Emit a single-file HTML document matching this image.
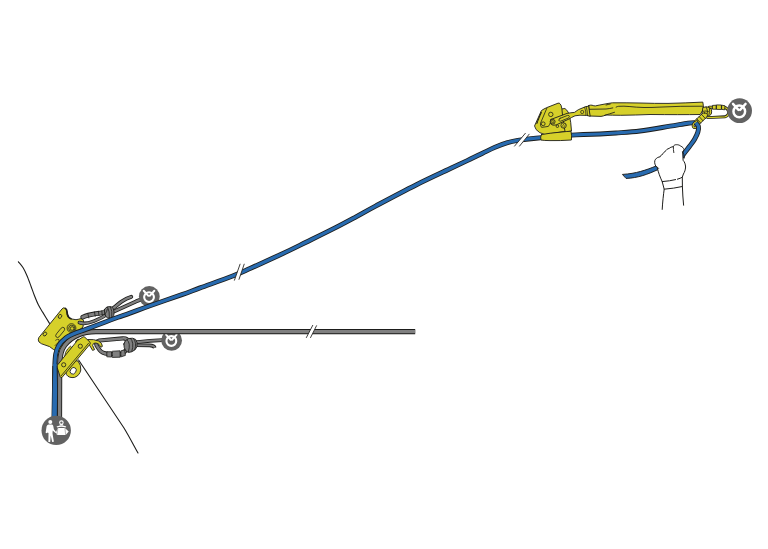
<!DOCTYPE html>
<html lang="en">
<head>
<meta charset="utf-8">
<title>Rope rescue diagram</title>
<style>html,body{margin:0;padding:0;background:#fff;}svg{display:block;}</style>
</head>
<body>
<svg width="768" height="549" viewBox="0 0 768 549" role="img" aria-label="Rope rescue diagram">
<path d="M18.40 261.80C19.18 262.80 21.67 265.48 23.10 267.80C24.53 270.12 25.68 272.63 27.00 275.70C28.32 278.77 29.78 282.93 31.00 286.20C32.22 289.47 33.10 292.25 34.30 295.30C35.50 298.35 36.78 301.65 38.20 304.50C39.62 307.35 40.92 309.25 42.80 312.40C44.68 315.55 48.38 321.57 49.50 323.40" fill="none" stroke="#1d1d1b" stroke-width="1.1" stroke-linejoin="round" stroke-linecap="round" />
<path d="M78.6 360C96 386 112 410 124 428C130 438 134 446 138 453" fill="none" stroke="#1d1d1b" stroke-width="1.1" stroke-linejoin="round" stroke-linecap="round" />
<path d="M62.3 308.6Q63.6 307.2 65 308.2Q66.6 309 66.7 311L67.2 314.5Q68 318 71 318.9L76 319.7Q79 319.2 81 318.6Q83.4 318.8 83.6 321L83 327L70 338L60 352L53.5 349.5Q50 346 45 345Q41 344 39 342Q37.6 340 38.6 338Z" fill="#d6d02a" stroke="#1d1d1b" stroke-width="0.9" stroke-linejoin="round" stroke-linecap="round" />
<ellipse cx="60" cy="316.4" rx="1.6" ry="2.1" transform="rotate(35 60 316.4)" fill="#d6d02a" stroke="#1d1d1b" stroke-width="0.8"/>
<path d="M65.4 308.4Q66.8 309.4 66.9 311L67.4 314.5Q68.2 317.8 71 318.7" fill="none" stroke="#1d1d1b" stroke-width="1.7" stroke-linejoin="round" stroke-linecap="round" />
<ellipse cx="44.9" cy="334" rx="1.6" ry="2.1" transform="rotate(35 44.9 334)" fill="#d6d02a" stroke="#1d1d1b" stroke-width="0.8"/>
<path d="M61.4 327.9Q62.8 326.6 64.2 327.8Q65.2 329.2 64.2 330.6L59 336.9Q57.6 338.2 56.2 337Q55 335.6 56.2 334.2Z" fill="none" stroke="#1d1d1b" stroke-width="0.8" stroke-linejoin="round" stroke-linecap="round" />
<path d="M55.6 340.2Q57.4 338.6 59 339.6Q59.6 341 58 342.6L55 345.6" fill="none" stroke="#1d1d1b" stroke-width="0.7" stroke-linejoin="round" stroke-linecap="round" />
<circle cx="71.5" cy="328.1" r="4.4" fill="#d6d02a" stroke="#1d1d1b" stroke-width="0.8"/>
<circle cx="71.8" cy="328.3" r="3.1" fill="#d6d02a" stroke="#1d1d1b" stroke-width="0.8"/>
<circle cx="72.1" cy="328.5" r="1.8" fill="#d6d02a" stroke="#1d1d1b" stroke-width="0.8"/>
<path d="M109 313.8L136 301.4L146 297.6" fill="none" stroke="#1d1d1b" stroke-width="3.9" stroke-linecap="butt" stroke-linejoin="round" /><path d="M109 313.8L136 301.4L146 297.6" fill="none" stroke="#808080" stroke-width="2.20" stroke-linecap="butt" stroke-linejoin="round" />
<path d="M135 342.4L150 340.8L162.5 340.1" fill="none" stroke="#1d1d1b" stroke-width="3.8" stroke-linecap="butt" stroke-linejoin="round" /><path d="M135 342.4L150 340.8L162.5 340.1" fill="none" stroke="#808080" stroke-width="2.10" stroke-linecap="butt" stroke-linejoin="round" />
<g transform="translate(149.3 296.5) scale(0.867)"><circle r="12" fill="#626262"/><circle cx="-0.3" cy="0.7" r="5.65" fill="none" stroke="#fff" stroke-width="2.4"/><path d="M-6.4 -6.6L-1.1 -0.8M5.8 -6.6L0.5 -0.8" stroke="#fff" stroke-width="2.3" stroke-linecap="round" fill="none"/></g>
<g transform="translate(171.6 340.4) scale(0.867)"><circle r="12" fill="#626262"/><circle cx="-0.3" cy="0.7" r="5.65" fill="none" stroke="#fff" stroke-width="2.4"/><path d="M-6.4 -6.6L-1.1 -0.8M5.8 -6.6L0.5 -0.8" stroke="#fff" stroke-width="2.3" stroke-linecap="round" fill="none"/></g>
<path d="M109 310.6C114 308.6 117.5 304.4 121.5 301.6C125 299.2 128 297.8 131.2 296.9" fill="none" stroke="#1d1d1b" stroke-width="4.0" stroke-linecap="round" stroke-linejoin="round" /><path d="M109 310.6C114 308.6 117.5 304.4 121.5 301.6C125 299.2 128 297.8 131.2 296.9" fill="none" stroke="#808080" stroke-width="2.30" stroke-linecap="round" stroke-linejoin="round" />
<path d="M79.4 322.5C83 324.2 88 323.4 94 321.1C99 319.2 103.5 317 107 314.4" fill="none" stroke="#1d1d1b" stroke-width="3.6" stroke-linecap="round" stroke-linejoin="round" /><path d="M79.4 322.5C83 324.2 88 323.4 94 321.1C99 319.2 103.5 317 107 314.4" fill="none" stroke="#808080" stroke-width="2.00" stroke-linecap="round" stroke-linejoin="round" />
<path d="M82.8 317.1C86 315.7 91 314.5 96 313.7C99 313.2 101.5 312.8 103.4 312.6" fill="none" stroke="#1d1d1b" stroke-width="4.8" stroke-linecap="round" stroke-linejoin="round" /><path d="M82.8 317.1C86 315.7 91 314.5 96 313.7C99 313.2 101.5 312.8 103.4 312.6" fill="none" stroke="#808080" stroke-width="3.10" stroke-linecap="round" stroke-linejoin="round" />
<path d="M87.8 313.4L88.8 318M94.4 311.8L95.2 316.2M98.4 311.2L99 315.6M101.8 310.8L102.2 315" fill="none" stroke="#1d1d1b" stroke-width="0.8" stroke-linejoin="round" stroke-linecap="round" />
<path d="M104.4 309.6Q105.6 307 108.5 306.6Q112 306.2 113.4 308.6Q114.4 312 113.8 315.4Q113 317.8 110.5 318.2Q107.4 318.6 105.8 316.5Q104.2 313 104.4 309.6Z" fill="#808080" stroke="#1d1d1b" stroke-width="0.9" stroke-linejoin="round" stroke-linecap="round" />
<path d="M107.6 307Q109.8 311 109.4 318.2M110.4 306.6Q112.6 311 111.8 317.6M105 314Q107 312 107.4 309" fill="none" stroke="#1d1d1b" stroke-width="0.8" stroke-linejoin="round" stroke-linecap="round" />
<path d="M59.6 417L59.7 380L59.7 366C59.7 356 60.6 350.5 64.8 345.2C70.4 338.2 80 331.62 96 331.62L415.2 331.62" fill="none" stroke="#1d1d1b" stroke-width="5.05" stroke-linecap="butt" stroke-linejoin="round" /><path d="M59.6 417L59.7 380L59.7 366C59.7 356 60.6 350.5 64.8 345.2C70.4 338.2 80 331.62 96 331.62L415.2 331.62" fill="none" stroke="#808080" stroke-width="3.25" stroke-linecap="butt" stroke-linejoin="round" />
<path d="M135 345.2L149.6 345.4Q154 345.6 154.8 347.8" fill="none" stroke="#1d1d1b" stroke-width="3.6" stroke-linecap="butt" stroke-linejoin="round" /><path d="M135 345.2L149.6 345.4Q154 345.6 154.8 347.8" fill="none" stroke="#808080" stroke-width="1.90" stroke-linecap="butt" stroke-linejoin="round" />
<path d="M96.6 345.6Q95.4 341.4 99.4 340.5L122.5 338.4Q127.5 338 128.6 342Q129.2 346 126 350Q124 353.6 120 354.3L108 353.8Q102 353.4 99.6 350Z" fill="none" stroke="#1d1d1b" stroke-width="4.2" stroke-linecap="round" stroke-linejoin="round" /><path d="M96.6 345.6Q95.4 341.4 99.4 340.5L122.5 338.4Q127.5 338 128.6 342Q129.2 346 126 350Q124 353.6 120 354.3L108 353.8Q102 353.4 99.6 350Z" fill="none" stroke="#808080" stroke-width="2.50" stroke-linecap="round" stroke-linejoin="round" />
<path d="M107.2 351.8L111.6 351.7L111.6 357L107.2 356.8Z" fill="#808080" stroke="#1d1d1b" stroke-width="0.8" stroke-linejoin="round" stroke-linecap="round" />
<path d="M112.6 351.2L120 350.8L120.2 357.2L112.6 357.4Z" fill="#808080" stroke="#1d1d1b" stroke-width="0.8" stroke-linejoin="round" stroke-linecap="round" />
<path d="M121.2 350.8L124.6 349.8L125.4 355.4L121.2 356.8Z" fill="#808080" stroke="#1d1d1b" stroke-width="0.8" stroke-linejoin="round" stroke-linecap="round" />
<path d="M123.8 344Q124.6 340 128.6 338.6Q132.6 337.4 135.6 339.4Q137.8 342 137 346.6Q135.6 350.6 131.6 351.8Q128 353.4 126 351Q123.6 348 123.8 344Z" fill="#808080" stroke="#1d1d1b" stroke-width="0.9" stroke-linejoin="round" stroke-linecap="round" />
<path d="M127 340Q131 342.6 128.4 351.8M130.4 338.2Q134.6 342.6 131.8 351.4M133.6 338.6Q137 343 134.8 349.6" fill="none" stroke="#1d1d1b" stroke-width="0.8" stroke-linejoin="round" stroke-linecap="round" />
<path d="M64.4 358L65.6 352.4Q67.4 348.4 70.4 346.2L71.8 347.4L66.6 358.6Z" fill="#d6d02a" stroke="#1d1d1b" stroke-width="0.8" stroke-linejoin="round" stroke-linecap="round" />
<path d="M75.6 341.6Q76.6 339.4 78.6 339L79.6 340.6L76.8 343Z" fill="#d6d02a" stroke="#1d1d1b" stroke-width="0.8" stroke-linejoin="round" stroke-linecap="round" />
<path d="M88 339.5Q94 339 98.6 341Q102.4 343 102.4 346.4L100.8 347.2Q99.6 343.6 96 343Q93 342.6 92.6 345.4L94.6 349.6L92.6 350.4L89.4 345Z" fill="#d6d02a" stroke="#1d1d1b" stroke-width="0.9" stroke-linejoin="round" stroke-linecap="round" />
<path d="M71 360L78 361Q81.2 365 80.8 370Q79.8 375.4 74.6 377.4Q69 378.4 66.4 374.6L65.4 370Z" fill="#d6d02a" stroke="#1d1d1b" stroke-width="0.9" stroke-linejoin="round" stroke-linecap="round" />
<ellipse cx="73.2" cy="370.8" rx="2.8" ry="3.5" transform="rotate(35 73.2 370.8)" fill="#fff" stroke="#1d1d1b" stroke-width="0.8"/>
<path d="M77.6 340.4L83.2 336.8Q84.2 336.6 85 337.4L90 342.2Q90.6 343.2 90 344.2L62 377.4Q60.8 378 60.2 376.8L57 367Q56.8 365.6 57.8 364.6Z" fill="#d6d02a" stroke="#1d1d1b" stroke-width="0.9" stroke-linejoin="round" stroke-linecap="round" />
<path d="M88.6 343.2L61.2 375.8" fill="none" stroke="#1d1d1b" stroke-width="0.8" stroke-linejoin="round" stroke-linecap="round" />
<circle cx="80.3" cy="346.2" r="2.1" fill="#d6d02a" stroke="#1d1d1b" stroke-width="0.85"/>
<circle cx="63.7" cy="364.8" r="2.1" fill="#d6d02a" stroke="#1d1d1b" stroke-width="0.85"/>
<path d="M54.50 417.00C54.55 414.00 54.75 407.22 54.80 399.00C54.85 390.78 54.65 375.17 54.80 367.70C54.95 360.23 55.05 357.88 55.70 354.20C56.35 350.52 57.02 348.30 58.70 345.60C60.38 342.90 63.18 340.02 65.80 338.00C68.42 335.98 70.93 334.98 74.40 333.50C77.87 332.02 81.43 331.03 86.60 329.10C91.77 327.18 100.17 323.92 105.40 321.95C110.63 319.98 113.90 318.77 118.00 317.30C122.10 315.83 124.67 315.03 130.00 313.10C135.33 311.17 141.33 308.78 150.00 305.70C158.67 302.62 173.67 297.57 182.00 294.60C190.33 291.63 191.67 290.95 200.00 287.90C208.33 284.85 223.67 279.53 232.00 276.30C240.33 273.07 244.33 271.02 250.00 268.50C255.67 265.98 259.33 264.26 266.00 261.20C272.67 258.14 283.33 253.30 290.00 250.15C296.67 247.00 298.33 246.09 306.00 242.30C313.67 238.51 327.67 231.65 336.00 227.40C344.33 223.15 349.33 220.40 356.00 216.80C362.67 213.20 366.00 211.11 376.00 205.80C386.00 200.49 403.33 191.28 416.00 184.95C428.67 178.62 443.00 172.08 452.00 167.80C461.00 163.53 464.92 161.73 470.00 159.30C475.08 156.87 478.33 155.22 482.50 153.20C486.67 151.18 490.83 148.97 495.00 147.20C499.17 145.43 503.71 143.73 507.50 142.60C511.29 141.47 513.00 141.13 517.75 140.40C522.50 139.67 526.29 139.12 536.00 138.20C545.71 137.28 565.33 135.60 576.00 134.90C586.67 134.20 593.33 134.32 600.00 134.00C606.67 133.68 609.33 133.50 616.00 133.00C622.67 132.50 631.00 132.13 640.00 131.00C649.00 129.87 662.00 127.50 670.00 126.20C678.00 124.90 683.75 123.80 688.00 123.20C692.25 122.60 694.25 122.70 695.50 122.60" fill="none" stroke="#1d1d1b" stroke-width="4.9" stroke-linecap="butt" stroke-linejoin="round" /><path d="M54.50 417.00C54.55 414.00 54.75 407.22 54.80 399.00C54.85 390.78 54.65 375.17 54.80 367.70C54.95 360.23 55.05 357.88 55.70 354.20C56.35 350.52 57.02 348.30 58.70 345.60C60.38 342.90 63.18 340.02 65.80 338.00C68.42 335.98 70.93 334.98 74.40 333.50C77.87 332.02 81.43 331.03 86.60 329.10C91.77 327.18 100.17 323.92 105.40 321.95C110.63 319.98 113.90 318.77 118.00 317.30C122.10 315.83 124.67 315.03 130.00 313.10C135.33 311.17 141.33 308.78 150.00 305.70C158.67 302.62 173.67 297.57 182.00 294.60C190.33 291.63 191.67 290.95 200.00 287.90C208.33 284.85 223.67 279.53 232.00 276.30C240.33 273.07 244.33 271.02 250.00 268.50C255.67 265.98 259.33 264.26 266.00 261.20C272.67 258.14 283.33 253.30 290.00 250.15C296.67 247.00 298.33 246.09 306.00 242.30C313.67 238.51 327.67 231.65 336.00 227.40C344.33 223.15 349.33 220.40 356.00 216.80C362.67 213.20 366.00 211.11 376.00 205.80C386.00 200.49 403.33 191.28 416.00 184.95C428.67 178.62 443.00 172.08 452.00 167.80C461.00 163.53 464.92 161.73 470.00 159.30C475.08 156.87 478.33 155.22 482.50 153.20C486.67 151.18 490.83 148.97 495.00 147.20C499.17 145.43 503.71 143.73 507.50 142.60C511.29 141.47 513.00 141.13 517.75 140.40C522.50 139.67 526.29 139.12 536.00 138.20C545.71 137.28 565.33 135.60 576.00 134.90C586.67 134.20 593.33 134.32 600.00 134.00C606.67 133.68 609.33 133.50 616.00 133.00C622.67 132.50 631.00 132.13 640.00 131.00C649.00 129.87 662.00 127.50 670.00 126.20C678.00 124.90 683.75 123.80 688.00 123.20C692.25 122.60 694.25 122.70 695.50 122.60" fill="none" stroke="#286bb0" stroke-width="3.20" stroke-linecap="butt" stroke-linejoin="round" />
<path d="M52.4 366L52.3 372L52 390L51.5 417L57.5 417L57.9 390L57.4 372L57.3 366Z" fill="#1d1d1b"/>
<path d="M53.25 364L53.2 372L52.65 390L52.1 417L56.8 417L57.1 390L56.75 372L56.6 364Z" fill="#286bb0"/>
<path d="M234.3 280.6L240.2 263.8L244.3 263.8L238.9 279.7Z" fill="#fff"/><path d="M234.3 280.6L240.2 263.8M238.9 279.7L244.3 263.8" stroke="#1d1d1b" stroke-width="0.85" fill="none"/>
<path d="M306.2 337.9L312.9 325L316.7 325.4L310.4 337.9Z" fill="#fff"/><path d="M306.2 337.9L312.9 325M310.4 337.9L316.7 325.4" stroke="#1d1d1b" stroke-width="0.85" fill="none"/>
<path d="M514.3 146.4L525.6 133L529.4 133.9L519.3 146.4Z" fill="#fff"/><path d="M514.3 146.4L525.6 133M519.3 146.4L529.4 133.9" stroke="#1d1d1b" stroke-width="0.85" fill="none"/>
<path d="M588.8 105.5Q590.6 104.9 592 105.2Q594 106 595.4 105.9Q600 104.9 604 104.2Q608 103.4 612.4 102.8Q626 102.7 640 103Q655 103.5 668 103.4Q685 103 702.8 102.1Q703.6 105.6 703.4 109.2L700.2 114.5Q680 114.8 650 114.5Q636 115.1 620.75 115.3Q612 115.2 606 115Q603 116.2 601 116.4L589.6 116Q588.6 111 588.8 105.5Z" fill="#d6d02a" stroke="#1d1d1b" stroke-width="0.9" stroke-linejoin="round" stroke-linecap="round" />
<path d="M589 109.3L606 109Q610 108.6 612.8 107.9M604.5 115.4Q609.3 113.9 614.5 112.3M606.1 105Q608 104.4 610.3 104" fill="none" stroke="#1d1d1b" stroke-width="0.85" stroke-linejoin="round" stroke-linecap="round" />
<path d="M616.1 107.1Q617.4 106.4 618.7 106.3Q624 106 629.1 106.5Q636 107.3 644 107.5Q652 107.6 660 107.1Q680 106 703 106.2" fill="none" stroke="#1d1d1b" stroke-width="0.85" stroke-linejoin="round" stroke-linecap="round" />
<path d="M561.9 108.9L564.9 108.5Q567 110 568.2 112.2Q570 117 570.7 122.3L571.5 131L560 133Z" fill="#d6d02a" stroke="#1d1d1b" stroke-width="0.9" stroke-linejoin="round" stroke-linecap="round" />
<path d="M534.7 125.6L541.4 110.6Q544 108.8 546.8 107.6L558 103.2Q559.4 102.8 560 103.8L561.1 105.4L561.9 108.9L563 120L565 131.4L545 134.6L539.7 132.6L536.4 129.8Z" fill="#d6d02a" stroke="#1d1d1b" stroke-width="0.9" stroke-linejoin="round" stroke-linecap="round" />
<path d="M541.4 134.6Q550 133 560 132.2Q567 131.4 571 131.2Q572 136 571.4 140Q560 140.8 550 140.6Q544 140.6 541 140Q540 137 541.4 134.6Z" fill="#d6d02a" stroke="#1d1d1b" stroke-width="0.9" stroke-linejoin="round" stroke-linecap="round" />
<path d="M546.8 108.3L540.5 123.2Q540 125.6 541.6 127.4L548.4 126.4Q549.6 124.4 550.6 122.6" fill="none" stroke="#1d1d1b" stroke-width="0.8" stroke-linejoin="round" stroke-linecap="round" />
<path d="M541.3 112.6L540.4 114.6M540 115.6L539.1 117.6M538.8 118.6L537.9 120.6M537.6 121.6L536.9 123.4" fill="none" stroke="#1d1d1b" stroke-width="1.1" stroke-linejoin="round" stroke-linecap="round" />
<circle cx="550.8" cy="114.4" r="2.2" fill="#d6d02a" stroke="#1d1d1b" stroke-width="0.8"/>
<circle cx="543.2" cy="123.8" r="1.9" fill="#d6d02a" stroke="#1d1d1b" stroke-width="0.8"/>
<circle cx="563.6" cy="125.5" r="2.7" fill="#d6d02a" stroke="#1d1d1b" stroke-width="0.8"/>
<path d="M562 126.6L564.2 123.6M563.6 127.4L565.6 124.6" fill="none" stroke="#1d1d1b" stroke-width="0.6" stroke-linejoin="round" stroke-linecap="round" />
<circle cx="557.4" cy="126.2" r="1.3" fill="#d6d02a" stroke="#1d1d1b" stroke-width="0.8"/>
<path d="M551 119.4L567 113.4Q571 112.6 574.5 112.4L578.3 109.7L585.8 106.6L588.6 106.2L590.2 116.3L586.6 115.4L580 115.2L575 115.8Q571 117.6 569 119L556 125Q552.4 126 550.4 123.6Q549.6 121 551 119.4Z" fill="#d6d02a" stroke="#1d1d1b" stroke-width="0.9" stroke-linejoin="round" stroke-linecap="round" />
<circle cx="552.8" cy="121.7" r="2.3" fill="#d6d02a" stroke="#1d1d1b" stroke-width="0.8"/>
<circle cx="552.8" cy="121.7" r="1.1" fill="#d6d02a" stroke="#1d1d1b" stroke-width="0.6"/>
<circle cx="582.2" cy="112" r="1.6" fill="#d6d02a" stroke="#1d1d1b" stroke-width="0.7"/>
<path d="M560 118.4L567.6 115.4Q569.2 115.2 569.4 116.4Q569.4 117.6 568 118.2L560.6 121.2Q559.2 121.4 558.8 120.2Q558.8 119 560 118.4Z" fill="none" stroke="#1d1d1b" stroke-width="0.8" stroke-linejoin="round" stroke-linecap="round" />
<path d="M586.2 106.6Q587.4 111 587.6 115.6M584.6 107.2Q586 111 586 115.2" fill="none" stroke="#1d1d1b" stroke-width="0.7" stroke-linejoin="round" stroke-linecap="round" />
<path d="M709.4 107.2L724 107.3Q728 108 728.8 112Q728.6 116 725 116.8L707.6 117.6" fill="none" stroke="#1d1d1b" stroke-width="2.9" stroke-linecap="round" stroke-linejoin="round" /><path d="M709.4 107.2L724 107.3Q728 108 728.8 112Q728.6 116 725 116.8L707.6 117.6" fill="none" stroke="#d6d02a" stroke-width="1.30" stroke-linecap="round" stroke-linejoin="round" />
<path d="M712.8 105.4L716.2 105.2L716.2 109.2L712.8 109.2Z" fill="#d6d02a" stroke="#1d1d1b" stroke-width="0.8" stroke-linejoin="round" stroke-linecap="round" />
<path d="M716.8 104.9L721.4 105L721.4 109.5L716.8 109.4Z" fill="#d6d02a" stroke="#1d1d1b" stroke-width="0.8" stroke-linejoin="round" stroke-linecap="round" />
<path d="M722 105.2L725 105.8L724.6 109.8L722 109.4Z" fill="#d6d02a" stroke="#1d1d1b" stroke-width="0.8" stroke-linejoin="round" stroke-linecap="round" />
<path d="M703.2 107.4L706.6 106.8Q710.2 107.2 711.4 109.4Q712 112 711.2 114.2Q709.6 116.2 707 116.2L702.4 114.2Z" fill="#d6d02a" stroke="#1d1d1b" stroke-width="0.9" stroke-linejoin="round" stroke-linecap="round" />
<path d="M706.2 107Q708 110 707.4 113.4M709.6 108.4Q710 111 709 114.6M703.4 111.2Q706 110.6 708.4 111.4" fill="none" stroke="#1d1d1b" stroke-width="0.8" stroke-linejoin="round" stroke-linecap="round" />
<path d="M704.6 112.9Q706.4 112.9 707.4 114.4Q707.9 116 706.6 117.2L698.6 125Q697.2 125.6 696 124.6L694.4 123Q693.8 121.8 694.6 120.8L702.6 113.4Q703.6 112.8 704.6 112.9Z" fill="#d6d02a" stroke="#1d1d1b" stroke-width="0.9" stroke-linejoin="round" stroke-linecap="round" />
<path d="M696.8 118.8L700.6 123M699.2 116.6L703 120.8M701.6 114.4L705.4 118.6" fill="none" stroke="#1d1d1b" stroke-width="0.8" stroke-linejoin="round" stroke-linecap="round" />
<path d="M697 121.6Q693.4 122.8 693 125.8Q693.4 128.2 695.6 127.6" fill="none" stroke="#1d1d1b" stroke-width="2.7" stroke-linecap="round" stroke-linejoin="round" /><path d="M697 121.6Q693.4 122.8 693 125.8Q693.4 128.2 695.6 127.6" fill="none" stroke="#d6d02a" stroke-width="1.10" stroke-linecap="round" stroke-linejoin="round" />
<path d="M695.80 122.80C696.23 123.37 698.05 124.67 698.40 126.20C698.75 127.73 698.53 129.83 697.90 132.00C697.27 134.17 695.98 136.82 694.60 139.20C693.22 141.58 691.50 143.72 689.60 146.30C687.70 148.88 684.55 152.92 683.20 154.70C681.85 156.48 681.78 156.62 681.50 157.00" fill="none" stroke="#1d1d1b" stroke-width="4.9" stroke-linecap="butt" stroke-linejoin="round" /><path d="M695.80 122.80C696.23 123.37 698.05 124.67 698.40 126.20C698.75 127.73 698.53 129.83 697.90 132.00C697.27 134.17 695.98 136.82 694.60 139.20C693.22 141.58 691.50 143.72 689.60 146.30C687.70 148.88 684.55 152.92 683.20 154.70C681.85 156.48 681.78 156.62 681.50 157.00" fill="none" stroke="#286bb0" stroke-width="3.20" stroke-linecap="butt" stroke-linejoin="round" />
<path d="M622.8 174.4C636 173.6 646 170.2 657 165.6L658.4 169.4C648 174.2 638 178 626.4 178.4Z" fill="#286bb0" stroke="#1d1d1b" stroke-width="0.95" stroke-linejoin="round" stroke-linecap="round" />
<path d="M662.2 209.4C662.6 202 663.4 195 664.2 189.2L662.2 181.6C660 177 658.4 172.5 657.2 167.6L655.8 166.2C654.4 163.4 654.2 160.8 655.6 159.2C656.8 157.6 658.6 157 660.2 156.8C660.6 155.4 661.6 154.6 662.6 154.4C663 153 664 152 665 151.8C665.8 150 667.4 148.8 669.2 148.4C670.4 147.2 671.8 146.9 673 146.8C673.8 145.2 675.2 144.6 676.4 144.7C678 144.6 679.6 145.2 680.6 146C682.4 146.8 683.8 148.2 684 149.6C683.6 150.6 683 151.2 682.7 151.9L683.1 160.3C684.6 162 685.4 164 685.6 167C685.4 170 684.6 172 683.4 174L682.3 177.2L682.4 186.5C682.6 193 683 199 683.6 205.2" fill="#fff" stroke="#1d1d1b" stroke-width="1.0" stroke-linejoin="round" stroke-linecap="round" stroke-linecap="round"/>
<path d="M661 210.5L684.6 206L684 211L661 212Z" fill="#fff"/>
<path d="M662.2 181.6Q670 181 675.6 179.6M677.4 179.2Q680.4 178.4 682.3 177.2M664.2 189.2Q674 188.4 682.4 186.5" fill="none" stroke="#1d1d1b" stroke-width="1.0" stroke-linejoin="round" stroke-linecap="round" />
<path d="M673.4 146.6Q673.2 149.6 673.8 152.6M682.7 151.9Q684.4 154 684.4 158M656.2 166.4Q657.6 167 658.6 168.4" fill="none" stroke="#1d1d1b" stroke-width="0.9" stroke-linejoin="round" stroke-linecap="round" />
<g transform="translate(739.6 110.7) scale(1.033)"><circle r="12" fill="#626262"/><circle cx="-0.3" cy="0.7" r="5.65" fill="none" stroke="#fff" stroke-width="2.4"/><path d="M-6.4 -6.6L-1.1 -0.8M5.8 -6.6L0.5 -0.8" stroke="#fff" stroke-width="2.3" stroke-linecap="round" fill="none"/></g>
<circle cx="56.2" cy="430.4" r="14.7" fill="#626262"/>
<g fill="#fff"><circle cx="50.3" cy="422.1" r="2.0"/><path d="M48.7 424.6L52 424.6Q52.9 424.8 53.2 425.8L53.9 429.2L56.2 432.2L55.4 433L52.7 430.6L52.5 433.4L53.9 441.8L52.2 442L50.7 435.6L50.2 442L48.4 442L48.5 433L47.6 432.6L46.9 433.2L45.6 432.8L46.6 426.2Q47.2 424.8 48.7 424.6Z"/><path d="M57.9 427.9L64.9 427.9L68.7 431.6L65.7 435.1L56.9 435.1L55.9 432.2Z"/><path d="M56.5 426.5Q61.4 424.3 66.3 426.5L65.5 427.5Q61.4 426 57.3 427.5Z"/><circle cx="61.4" cy="422.6" r="1.75" fill="none" stroke="#fff" stroke-width="1.1"/><path d="M60 424.2L62.8 424.2L63.4 425.4L59.4 425.4Z"/></g>
<path d="M57.9 427.9L56.9 435.1M64.9 427.9L65.7 435.1" stroke="#626262" stroke-width="0.45" fill="none"/>
</svg>
</body>
</html>
